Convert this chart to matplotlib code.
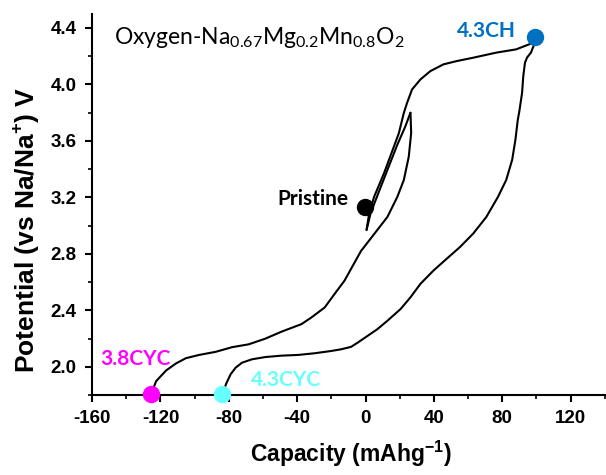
import matplotlib
matplotlib.use('Agg')
import matplotlib.pyplot as plt
from matplotlib.ticker import MultipleLocator

plt.rcParams['axes.unicode_minus'] = False
plt.rcParams['mathtext.fontset'] = 'custom'
plt.rcParams['mathtext.rm'] = 'Lato'
plt.rcParams['mathtext.bf'] = 'Liberation Sans:bold'

# curves
charge38_x = [0.6, 3, 7, 12.8, 18.6, 23.2, 26.3]
charge38_y = [2.97, 3.09, 3.215, 3.395, 3.573, 3.70, 3.80]

disch38_x = [26.3, 26.7, 25.3, 22.4, 18.6, 12.8, 5.0, -2.7, -12.3, -18.1, -23.9, -31.7, -37.5,
             -49.1, -58.7, -68.4, -78.1, -87.7, -97.4, -105.1, -110.9, -116.7, -122.5, -125.4]
disch38_y = [3.798, 3.656, 3.489, 3.323, 3.204, 3.062, 2.94, 2.82, 2.611, 2.517, 2.421, 2.35, 2.303,
             2.25, 2.20, 2.16, 2.14, 2.107, 2.085, 2.062, 2.025, 1.975, 1.90, 1.812]

charge43_x = [0.6, 2.1, 5.0, 10.8, 16.6, 19.5, 22.4, 24.3, 27.2, 32.1, 37.9, 45.6, 53.3, 63.0,
              76.5, 88.1, 95.8, 98.7]
charge43_y = [2.97, 3.086, 3.204, 3.371, 3.56, 3.655, 3.798, 3.869, 3.964, 4.035, 4.094, 4.142,
              4.165, 4.189, 4.225, 4.248, 4.284, 4.307]

disch43_x = [98.7, 96.8, 94.5, 93.3, 92.3, 91.6, 90.0, 89.1, 87.7, 85.8, 82.3, 77.5, 70.7, 63,
             55.2, 47.5, 39.8, 32.1, 26.3, 20.5, 12.8, 7.0, 1.2, -4.6, -8.5, -14.3, -20.1, -29.7,
             -39.4, -49.1, -58.7, -66.5, -72.3, -76.1, -79, -81.3, -83.9]
disch43_y = [4.284, 4.225, 4.19, 4.154, 4.058, 3.94, 3.81, 3.75, 3.608, 3.466, 3.323, 3.204, 3.062,
             2.944, 2.848, 2.766, 2.683, 2.588, 2.493, 2.41, 2.327, 2.268, 2.22, 2.172, 2.142,
             2.125, 2.113, 2.097, 2.085, 2.08, 2.07, 2.054, 2.03, 1.994, 1.947, 1.888, 1.81]

# labelled points
point_names = ['Pristine', '4.3CH', '3.8CYC', '4.3CYC']
point_x = [-0.5, 99.2, -125.6, -84.2]
point_y = [3.13, 4.333, 1.81, 1.81]
point_colors = ['black', '#0070C0', '#FF00FF', '#66FFFF']
label_x = [-10, 88, -155, -67]
label_y = [3.19, 4.38, 2.056, 1.91]
label_ha = ['right', 'right', 'left', 'left']

fig = plt.figure(figsize=(6.06, 4.75), dpi=100)
ax = fig.add_axes([0.152, 0.168, 0.846, 0.803])

for cx, cy in [(charge38_x, charge38_y), (disch38_x, disch38_y),
               (charge43_x, charge43_y), (disch43_x, disch43_y)]:
    ax.plot(cx, cy, color='black', lw=1.5, solid_joinstyle='round', solid_capstyle='round')

for px, py, c in zip(point_x, point_y, point_colors):
    ax.plot(px, py, 'o', ms=11.5, color=c, zorder=5, clip_on=False)

for name, lx, ly, ha, c in zip(point_names, label_x, label_y, label_ha, point_colors):
    ax.text(lx, ly, name, color=c, ha=ha, va='center', family='Lato',
            fontweight='bold', fontsize=15)

ax.text(-147, 4.287, r'Oxygen-Na$_{0.67}$Mg$_{0.2}$Mn$_{0.8}$O$_2$', family='Lato',
        fontsize=16.5, ha='left', va='baseline')

ax.set_xlim(-160, 140)
ax.set_ylim(1.8, 4.5)
ax.xaxis.set_minor_locator(MultipleLocator(20))
ax.yaxis.set_minor_locator(MultipleLocator(0.2))
ax.set_xticks(range(-160, 121, 40))
ax.set_yticks([2.0, 2.4, 2.8, 3.2, 3.6, 4.0, 4.4])

for s in ['top', 'right']:
    ax.spines[s].set_visible(False)
for s in ['left', 'bottom']:
    ax.spines[s].set_linewidth(1.5)
ax.tick_params(which='major', direction='out', length=5, width=1.5, pad=6)
ax.tick_params(which='minor', direction='out', length=3, width=1.2)
for lab in ax.get_xticklabels() + ax.get_yticklabels():
    lab.set_family('Liberation Sans')
    lab.set_fontweight('bold')
    lab.set_fontsize(13.5)

ax.set_xlabel(r'Capacity (mAhg$^{\mathbf{-1}}$)', family='Liberation Sans', fontweight='bold',
              fontsize=16.5)
ax.set_ylabel(r'Potential (vs Na/Na$^{\mathbf{+}}$) V', family='Liberation Sans', fontweight='bold',
              fontsize=19)
ax.xaxis.set_label_coords(0.505, -0.115)
ax.yaxis.set_label_coords(-0.1, 0.433)

fig.savefig('out.png', dpi=100)
